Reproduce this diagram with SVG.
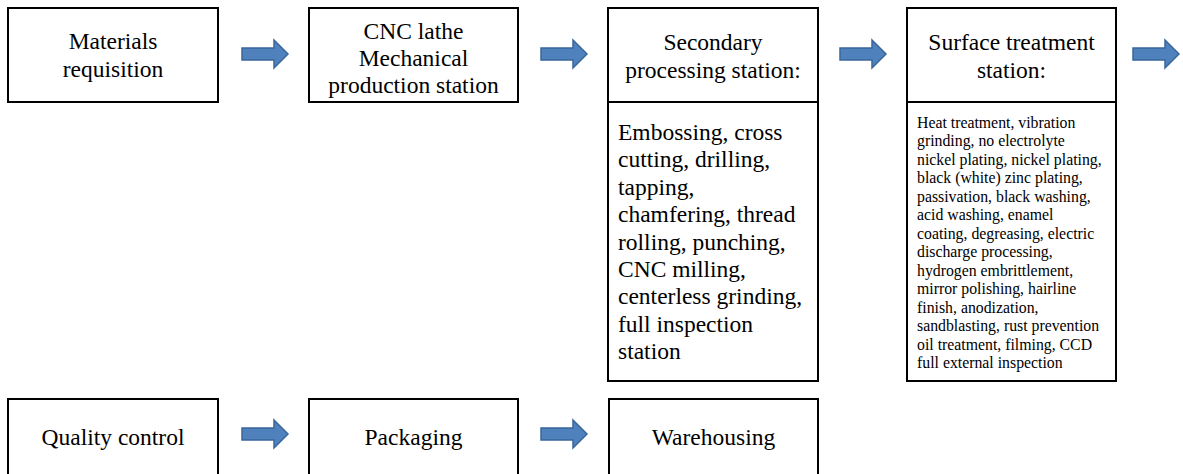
<svg xmlns="http://www.w3.org/2000/svg" width="1183" height="474" viewBox="0 0 1183 474">
<defs>
<style>
.box{fill:#fff;stroke:#000;stroke-width:2}
.t{font-family:"Liberation Serif","Times New Roman",serif;font-size:23.5px;fill:#000;text-anchor:middle}
.tl{font-family:"Liberation Serif","Times New Roman",serif;font-size:23.5px;fill:#000}
.ts{font-family:"Liberation Serif","Times New Roman",serif;font-size:15.8px;fill:#000}
.arr{fill:#4F81BD;stroke:#3A679C;stroke-width:1.5;stroke-linejoin:miter}
</style>
<path id="arrow" d="M0,8 H32 V0 L46,14 L32,28 V20 H0 Z"/>
</defs>
<rect width="1183" height="474" fill="#fff"/>

<g id="n-materials">
<rect class="box" x="8" y="8" width="210" height="94"/>
<text class="t" x="113" y="49">Materials</text>
<text class="t" x="113" y="77">requisition</text>
</g>

<g id="n-cnc">
<rect class="box" x="309" y="8" width="209" height="94"/>
<text class="t" x="413.5" y="39">CNC lathe</text>
<text class="t" x="413.5" y="66">Mechanical</text>
<text class="t" x="413.5" y="93">production station</text>
</g>

<g id="n-secondary">
<rect class="box" x="608" y="8" width="210" height="94"/>
<text class="t" x="713" y="50">Secondary</text>
<text class="t" x="713" y="78">processing station:</text>
<rect class="box" x="608" y="102" width="210" height="279"/>
<text class="tl" x="618" y="140">Embossing, cross</text>
<text class="tl" x="618" y="167.4">cutting, drilling,</text>
<text class="tl" x="618" y="194.8">tapping,</text>
<text class="tl" x="618" y="222.2">chamfering, thread</text>
<text class="tl" x="618" y="249.6">rolling, punching,</text>
<text class="tl" x="618" y="277">CNC milling,</text>
<text class="tl" x="618" y="304.4">centerless grinding,</text>
<text class="tl" x="618" y="331.8">full inspection</text>
<text class="tl" x="618" y="359.2">station</text>
</g>

<g id="n-surface">
<rect class="box" x="907" y="8" width="209" height="94"/>
<text class="t" x="1011.5" y="50">Surface treatment</text>
<text class="t" x="1011.5" y="78">station:</text>
<rect class="box" x="907" y="102" width="209" height="279"/>
<text class="ts" x="917" y="127.7">Heat treatment, vibration</text>
<text class="ts" x="917" y="146.2">grinding, no electrolyte</text>
<text class="ts" x="917" y="164.7">nickel plating, nickel plating,</text>
<text class="ts" x="917" y="183.2">black (white) zinc plating,</text>
<text class="ts" x="917" y="201.7">passivation, black washing,</text>
<text class="ts" x="917" y="220.2">acid washing, enamel</text>
<text class="ts" x="917" y="238.7">coating, degreasing, electric</text>
<text class="ts" x="917" y="257.2">discharge processing,</text>
<text class="ts" x="917" y="275.7">hydrogen embrittlement,</text>
<text class="ts" x="917" y="294.2">mirror polishing, hairline</text>
<text class="ts" x="917" y="312.7">finish, anodization,</text>
<text class="ts" x="917" y="331.2">sandblasting, rust prevention</text>
<text class="ts" x="917" y="349.7">oil treatment, filming, CCD</text>
<text class="ts" x="917" y="368.2">full external inspection</text>
</g>

<g id="n-quality">
<rect class="box" x="8" y="399" width="210" height="90"/>
<text class="t" x="113" y="445">Quality control</text>
</g>

<g id="n-packaging">
<rect class="box" x="309" y="399" width="209" height="90"/>
<text class="t" x="413.5" y="445">Packaging</text>
</g>

<g id="n-warehousing">
<rect class="box" x="609" y="399" width="209" height="90"/>
<text class="t" x="713.5" y="445">Warehousing</text>
</g>

<g id="connectors">
<use href="#arrow" class="arr" x="242" y="40"/>
<use href="#arrow" class="arr" x="541" y="40"/>
<use href="#arrow" class="arr" x="840" y="40"/>
<use href="#arrow" class="arr" x="1133" y="40"/>
<use href="#arrow" class="arr" x="242" y="420"/>
<use href="#arrow" class="arr" x="541" y="420"/>
</g>
</svg>
